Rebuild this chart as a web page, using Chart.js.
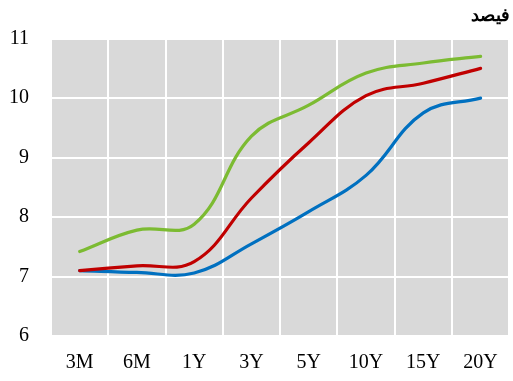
<!DOCTYPE html>
<html lang="ar">
  <head>
    <meta charset="utf-8" />
    <title>Yield curve</title>
    <script src="https://cdn.jsdelivr.net/npm/chart.js@4.4.0/dist/chart.umd.min.js"></script>
    <style>
      html, body { margin: 0; padding: 0; background: #fff; }
      #wrap { width: 513px; height: 381px; }
    </style>
  </head>
  <body>
    <div id="wrap"><canvas id="myChart"></canvas></div>
    <script>
      // data
      var tenors = ["3M", "6M", "1Y", "3Y", "5Y", "10Y", "15Y", "20Y"];
      var greenCurve = [7.42, 7.78, 7.88, 9.36, 9.88, 10.42, 10.59, 10.7];
      var redCurve = [7.1, 7.18, 7.25, 8.32, 9.25, 10.04, 10.25, 10.5];
      var blueCurve = [7.1, 7.07, 7.06, 7.55, 8.09, 8.7, 9.75, 10.0];
      var yTicks = [6, 7, 8, 9, 10, 11];

      // grey plot background
      var plotBg = {
        id: "plotBg",
        beforeDraw: function (chart) {
          var a = chart.chartArea;
          var ctx = chart.ctx;
          ctx.save();
          ctx.fillStyle = "#d9d9d9";
          ctx.fillRect(a.left, a.top, a.right - a.left, a.bottom - a.top);
          ctx.restore();
        },
      };

      var ctx = document.getElementById("myChart");
      new Chart(ctx, {
        type: "line",
        data: {
          labels: tenors,
          datasets: [
            { data: greenCurve, borderColor: "#7cbb32" },
            { data: redCurve, borderColor: "#c00000" },
            { data: blueCurve, borderColor: "#0070c0" },
          ],
        },
        options: {
          responsive: true,
          maintainAspectRatio: false,
          animation: false,
          layout: { padding: { top: 0, right: 3, left: 0, bottom: 0 } },
          elements: {
            line: { borderWidth: 3.2, tension: 0.4, borderCapStyle: "round" },
            point: { radius: 0 },
          },
          plugins: {
            legend: { display: false },
            tooltip: { enabled: false },
            title: {
              display: true,
              text: "فيصد",
              align: "end",
              color: "#000",
              font: { family: "DejaVu Serif", size: 18, weight: "bold" },
              padding: { top: 6, bottom: 11 },
            },
          },
          scales: {
            x: {
              offset: true,
              grid: { offset: true, color: "#ffffff", lineWidth: 2, drawTicks: false },
              border: { display: false },
              afterFit: function (axis) { axis.height = 45; },
              ticks: {
                color: "#000",
                padding: 15,
                font: { family: "Liberation Serif", size: 20 },
              },
            },
            y: {
              min: 6,
              max: 11,
              afterBuildTicks: function (axis) {
                axis.ticks = yTicks.map(function (v) { return { value: v }; });
              },
              afterFit: function (axis) { axis.width = 51; },
              grid: { color: "#ffffff", lineWidth: 2, drawTicks: false },
              border: { display: false },
              ticks: {
                color: "#000",
                padding: 22,
                font: { family: "Liberation Serif", size: 20 },
              },
            },
          },
        },
        plugins: [plotBg],
      });
    </script>
  </body>
</html>
